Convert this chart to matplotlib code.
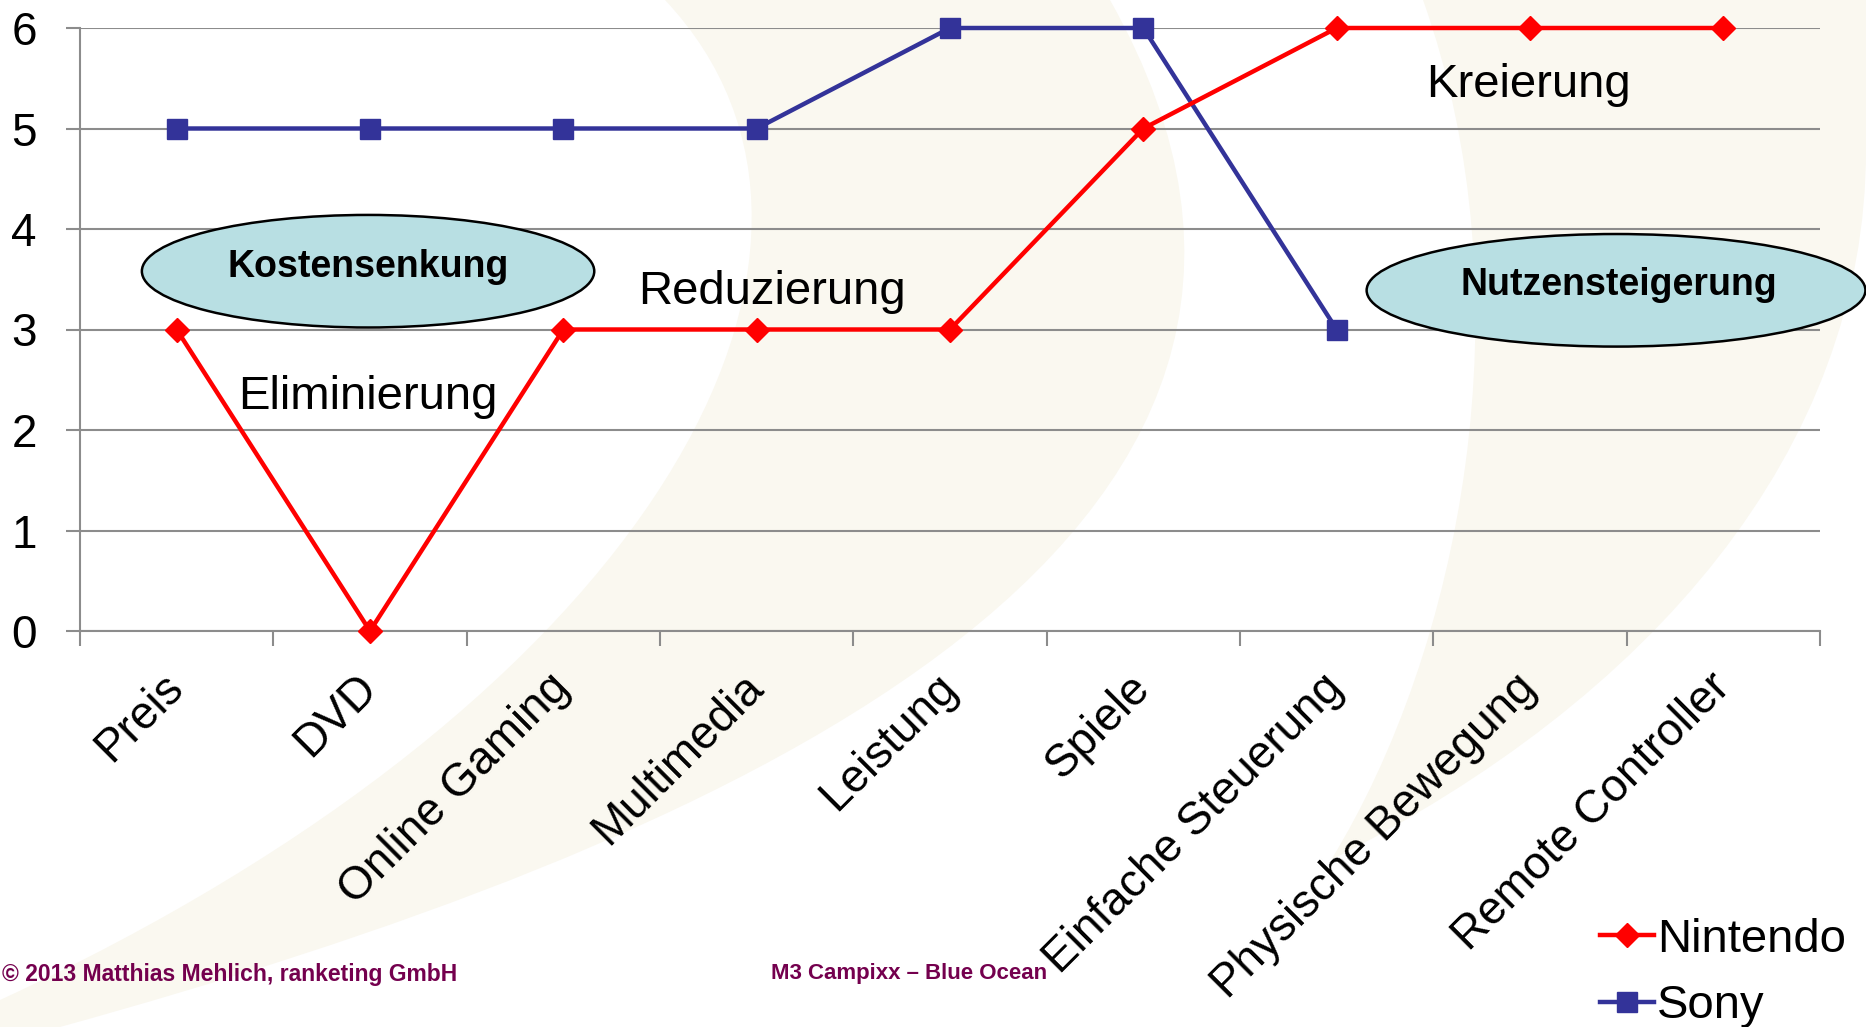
import numpy as np
import matplotlib.pyplot as plt
from matplotlib.patches import Ellipse, PathPatch
from matplotlib.path import Path
from matplotlib.lines import Line2D

plt.rcParams['font.family'] = ['Liberation Sans', 'DejaVu Sans']

# Daten
kategorien = ['Preis', 'DVD', 'Online Gaming', 'Multimedia', 'Leistung', 'Spiele',
              'Einfache Steuerung', 'Physische Bewegung', 'Remote Controller']
nintendo = [3, 0, 3, 3, 3, 5, 6, 6, 6]
sony = [5, 5, 5, 5, 6, 6, 3, np.nan, np.nan]
y_ticks = [0, 1, 2, 3, 4, 5, 6]

W, H = 1866, 1027
fig = plt.figure(figsize=(W / 100, H / 100), dpi=100)
fig.patch.set_facecolor('white')


def px(pts):
    # Pixel (oben links) -> Figure-Koordinaten
    return [(x / W, 1 - y / H) for x, y in pts]


# dezenter Hintergrund-Schwung (Bezier-Kurven)
beige = '#faf8f0'
M, C, L, Z = Path.MOVETO, Path.CURVE4, Path.LINETO, Path.CLOSEPOLY
links = Path(px([(665, 0), (900, 250), (650, 700), (0, 1000), (0, 1027), (60, 1027),
                 (700, 850), (1420, 550), (1110, 0), (665, 0)]),
             [M, C, C, C, L, L, C, C, C, Z])
rechts = Path(px([(1423, 0), (1530, 300), (1460, 650), (1331, 860),
                  (1650, 700), (1866, 450), (1866, 150), (1866, 0), (1423, 0)]),
              [M, C, C, C, C, C, C, L, Z])
for p in (links, rechts):
    fig.patches.append(PathPatch(p, transform=fig.transFigure, facecolor=beige,
                                 edgecolor='none', zorder=-5))

ax = fig.add_axes([80 / W, 1 - 631 / H, 1740 / W, 603 / H])
ax.set_zorder(1)
ax.set_facecolor('none')

x = np.arange(len(kategorien))
ax.plot(x, nintendo, color='#ff0000', lw=3.2, marker='D', ms=12, clip_on=False, zorder=4)
ax.plot(x, sony, color='#333399', lw=3.2, marker='s', ms=15, clip_on=False, zorder=3)

ax.set_xlim(-0.5, len(kategorien) - 0.5)
ax.set_ylim(0, 6)
ax.set_yticks(y_ticks)
ax.grid(axis='y', color='#8c8c8c', lw=1.5, zorder=1)
ax.set_axisbelow(True)

grau = '#8c8c8c'
for s in ['top', 'right']:
    ax.spines[s].set_visible(False)
for s in ['left', 'bottom']:
    ax.spines[s].set_color(grau)
    ax.spines[s].set_linewidth(1.5)

ax.tick_params(axis='y', length=10, width=1.5, color=grau, pad=21, labelsize=33)
ax.set_xticks(x)
ax.set_xticklabels(kategorien, rotation=45, ha='right', va='center',
                   rotation_mode='anchor', fontsize=33)
ax.tick_params(axis='x', which='major', length=0, pad=36)
ax.set_xticks(np.arange(-0.5, len(kategorien)), minor=True)
ax.tick_params(axis='x', which='minor', length=11, width=1.5, color=grau)

# Ellipsen
ell_farbe = '#b8dfe3'
ax.add_patch(Ellipse((0.99, 3.58), 2.34, 1.12, facecolor=ell_farbe,
                     edgecolor='black', lw=1.8, zorder=6, clip_on=False))
ax.add_patch(Ellipse((7.445, 3.39), 2.58, 1.12, facecolor=ell_farbe,
                     edgecolor='black', lw=1.8, zorder=6, clip_on=False))
ax.text(0.99, 3.62, 'Kostensenkung', ha='center', va='center', fontsize=27,
        fontweight='bold', zorder=7)
ax.text(7.46, 3.44, 'Nutzensteigerung', ha='center', va='center', fontsize=27,
        fontweight='bold', zorder=7)

# Beschriftungen
ax.text(0.99, 2.33, 'Eliminierung', ha='center', va='center', fontsize=34, zorder=7)
ax.text(3.08, 3.37, 'Reduzierung', ha='center', va='center', fontsize=34, zorder=7)
ax.text(6.99, 5.43, 'Kreierung', ha='center', va='center', fontsize=34, zorder=7)

# Legende
handles = [Line2D([], [], color='#ff0000', lw=3.2, marker='D', ms=12),
           Line2D([], [], color='#333399', lw=3.2, marker='s', ms=15)]
fig.legend(handles, ['Nintendo', 'Sony'], loc='upper left',
           bbox_to_anchor=(1600 / W, 1 - 918 / H), frameon=False, fontsize=34,
           handlelength=1.15, handletextpad=0.05, labelspacing=0.47,
           borderpad=0, borderaxespad=0)

# Fußzeile
lila = '#74004e'
fig.text(2 / W, 1 - 975 / H, '© 2013 Matthias Mehlich, ranketing GmbH', color=lila,
         fontsize=16.5, fontweight='bold', va='center')
fig.text(771 / W, 1 - 973 / H, 'M3 Campixx – Blue Ocean', color=lila,
         fontsize=16, fontweight='bold', va='center')

fig.savefig('out.png', dpi=100)
